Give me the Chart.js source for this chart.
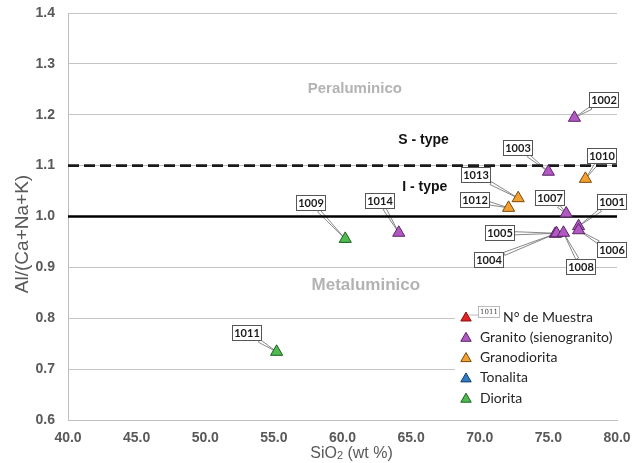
<!DOCTYPE html>
<html><head><meta charset="utf-8">
<script src="https://cdn.jsdelivr.net/npm/chart.js@4.4.1/dist/chart.umd.min.js"></script>
<style>html,body{margin:0;padding:0;background:#fff}canvas{display:block}</style>
</head><body>
<canvas id="c" width="643" height="463"></canvas>
<script>
// ---- data ----
const categories = ['Granito (sienogranito)', 'Granodiorita', 'Tonalita', 'Diorita'];
const granitoIds   = ['1001', '1002', '1003', '1004', '1005', '1006', '1007', '1008', '1014'];
const granitoSiO2  = [77.2, 76.9, 75.0, 75.5, 75.6, 77.2, 76.3, 76.1, 64.1];
const granitoAI    = [0.981, 1.194, 1.088, 0.966, 0.967, 0.973, 1.006, 0.968, 0.968];
const granodioritaIds  = ['1010', '1012', '1013'];
const granodioritaSiO2 = [77.7, 72.1, 72.8];
const granodioritaAI   = [1.074, 1.017, 1.036];
const tonalitaIds  = [];
const tonalitaSiO2 = [];
const tonalitaAI   = [];
const dioritaIds  = ['1009', '1011'];
const dioritaSiO2 = [60.2, 55.2];
const dioritaAI   = [0.956, 0.734];
const xTicks = [40, 45, 50, 55, 60, 65, 70, 75, 80];
const yTicks = [0.6, 0.7, 0.8, 0.9, 1.0, 1.1, 1.2, 1.3, 1.4];
const iTypeLimit = 1.0;
const sTypeLimit = 1.1;
const legendSampleLabel = 'N° de Muestra';
const legendSampleId = '1011';

// ---- styling (positions / colours) ----
const colors = {
  'Granito (sienogranito)': ['#b158c2', '#5b2466'],
  'Granodiorita': ['#f2a131', '#7a4a0c'],
  'Tonalita': ['#2f7bc4', '#123f6e'],
  'Diorita': ['#4dbb4f', '#1c5e1f']
};
// label box centre offsets (px) relative to each point
const labelOffsets = {
  '1001': [33, -24], '1002': [30, -18], '1003': [-30, -24], '1004': [-66, 26],
  '1005': [-57, 0], '1006': [33, 20], '1007': [-16, -15], '1008': [18, 34],
  '1009': [-34, -36], '1010': [17, -23], '1011': [-30, -19], '1012': [-34, -8],
  '1013': [-42, -23], '1014': [-19, -32]
};
const textNotes = [
  { text: 'Peraluminico', x: 60.9, y: 1.251, font: 'bold 15px "Liberation Sans", Arial', color: '#b3b3b3' },
  { text: 'Metaluminico', x: 61.7, y: 0.865, font: 'bold 17px "Liberation Sans", Arial', color: '#b3b3b3' },
  { text: 'S - type', x: 65.9, y: 1.150, font: 'bold 14px "Liberation Sans", Arial', color: '#111' },
  { text: 'I - type', x: 66.0, y: 1.058, font: 'bold 14px "Liberation Sans", Arial', color: '#111' }
];

const groups = [
  [categories[0], granitoIds, granitoSiO2, granitoAI],
  [categories[1], granodioritaIds, granodioritaSiO2, granodioritaAI],
  [categories[2], tonalitaIds, tonalitaSiO2, tonalitaAI],
  [categories[3], dioritaIds, dioritaSiO2, dioritaAI]
];

const scatterSets = groups.map(([name, ids, xs, ys]) => ({
  type: 'scatter',
  label: name,
  ids: ids,
  data: xs.map((x, i) => ({ x: x, y: ys[i] })),
  pointStyle: 'triangle',
  pointRadius: 7,
  backgroundColor: colors[name][0],
  borderColor: colors[name][1],
  borderWidth: 1,
  order: 1
}));

const lineSets = [
  { type: 'line', label: 'S', data: [{ x: xTicks[0], y: sTypeLimit }, { x: xTicks[xTicks.length - 1], y: sTypeLimit }],
    borderColor: '#1a1a1a', borderWidth: 2.6, borderDash: [11, 5], pointRadius: 0, order: 2 },
  { type: 'line', label: 'I', data: [{ x: xTicks[0], y: iTypeLimit }, { x: xTicks[xTicks.length - 1], y: iTypeLimit }],
    borderColor: '#000', borderWidth: 2.6, pointRadius: 0, order: 2 }
];

function drawTri(ctx, x, y, r, fill, stroke) {
  ctx.beginPath();
  ctx.moveTo(x, y - r);
  ctx.lineTo(x + r * 0.866, y + r * 0.5);
  ctx.lineTo(x - r * 0.866, y + r * 0.5);
  ctx.closePath();
  ctx.fillStyle = fill; ctx.fill();
  ctx.strokeStyle = stroke; ctx.lineWidth = 1; ctx.stroke();
}

function boxEdge(bx, by, hw, hh, px, py) {
  const dx = px - bx, dy = py - by;
  if (dx === 0 && dy === 0) return [bx, by];
  const t = Math.min(dx !== 0 ? hw / Math.abs(dx) : Infinity, dy !== 0 ? hh / Math.abs(dy) : Infinity);
  return [bx + dx * t, by + dy * t];
}

function leader(ctx, sx, sy, px, py) {
  const dx = px - sx, dy = py - sy, L = Math.hypot(dx, dy) || 1;
  const nx = -dy / L * 1.6, ny = dx / L * 1.6;
  ctx.beginPath();
  ctx.moveTo(sx + nx, sy + ny);
  ctx.lineTo(px, py);
  ctx.lineTo(sx - nx, sy - ny);
  ctx.closePath();
  ctx.fillStyle = '#fff'; ctx.fill();
  ctx.strokeStyle = '#7a7a7a'; ctx.lineWidth = 0.9; ctx.stroke();
}

const BW = 30, BH = 16;
const labelPlugin = {
  id: 'labels',
  beforeDatasetsDraw(chart) {
    const ctx = chart.ctx;
    ctx.save();
    chart.data.datasets.forEach((ds, di) => {
      if (!ds.ids) return;
      chart.getDatasetMeta(di).data.forEach((el, j) => {
        const off = labelOffsets[ds.ids[j]];
        const bx = el.x + off[0], by = el.y + off[1];
        const [sx, sy] = boxEdge(bx, by, BW / 2, BH / 2, el.x, el.y);
        leader(ctx, sx, sy, el.x, el.y);
      });
    });
    ctx.restore();
  },
  afterDatasetsDraw(chart) {
    const ctx = chart.ctx;
    ctx.save();
    chart.data.datasets.forEach((ds, di) => {
      if (!ds.ids) return;
      chart.getDatasetMeta(di).data.forEach((el, j) => {
        const off = labelOffsets[ds.ids[j]];
        const bx = Math.round(el.x + off[0]), by = Math.round(el.y + off[1]);
        ctx.fillStyle = '#fff';
        ctx.fillRect(bx - BW / 2, by - BH / 2, BW, BH);
        ctx.strokeStyle = '#555'; ctx.lineWidth = 1;
        ctx.strokeRect(bx - BW / 2 + 0.5, by - BH / 2 + 0.5, BW - 1, BH - 1);
        ctx.fillStyle = '#1a1a1a';
        ctx.font = 'bold 11px Lato, "Liberation Sans", sans-serif';
        ctx.textAlign = 'center'; ctx.textBaseline = 'middle';
        ctx.fillText(ds.ids[j], bx, by + 0.5);
      });
    });
    const xs = chart.scales.x, ys = chart.scales.y;
    textNotes.forEach(n => {
      ctx.font = n.font; ctx.fillStyle = n.color;
      ctx.textAlign = 'center'; ctx.textBaseline = 'middle';
      ctx.fillText(n.text, xs.getPixelForValue(n.x), ys.getPixelForValue(n.y));
    });
    ctx.restore();
  },
  afterDraw(chart) {
    const ctx = chart.ctx, a = chart.chartArea;
    ctx.save();
    ctx.fillStyle = '#595959';
    ctx.font = '19px "Liberation Sans", Arial';
    ctx.textAlign = 'center'; ctx.textBaseline = 'middle';
    ctx.translate(23, 234);
    ctx.rotate(-Math.PI / 2);
    ctx.fillText('Al/(Ca+Na+K)', 0, 0);
    ctx.setTransform(1, 0, 0, 1, 0, 0);
    const cx = (a.left + a.right) / 2 + 9, ty = 452;
    ctx.font = '16px "Liberation Sans", Arial';
    const w1 = ctx.measureText('SiO').width;
    ctx.font = '11px "Liberation Sans", Arial';
    const w2 = ctx.measureText('2').width;
    ctx.font = '16px "Liberation Sans", Arial';
    const w3 = ctx.measureText(' (wt %)').width;
    let x0 = cx - (w1 + w2 + w3) / 2;
    ctx.textAlign = 'left'; ctx.textBaseline = 'alphabetic';
    ctx.fillText('SiO', x0, ty + 6);
    ctx.font = '11px "Liberation Sans", Arial';
    ctx.fillText('2', x0 + w1, ty + 7);
    ctx.font = '16px "Liberation Sans", Arial';
    ctx.fillText(' (wt %)', x0 + w1 + w2, ty + 6);

    // legend
    const lx = a.right - 162, ly = a.bottom - 117;
    ctx.fillStyle = '#fff';
    ctx.fillRect(lx, ly, 643 - lx, a.bottom - 8 - ly);
    const rows = [legendSampleLabel].concat(categories);
    rows.forEach((t, i) => {
      const y = ly + 14 + i * 20.3;
      const tx = lx + 11;
      if (i === 0) {
        drawTri(ctx, tx, y + 1, 6, '#e02424', '#8a1010');
        const mbx = tx + 12, mby = y - 11;
        ctx.strokeStyle = '#aaa'; ctx.lineWidth = 0.8;
        ctx.beginPath(); ctx.moveTo(mbx, mby + 9); ctx.lineTo(tx + 3, y - 2); ctx.stroke();
        ctx.fillStyle = '#fff'; ctx.fillRect(mbx, mby, 22, 12);
        ctx.strokeRect(mbx + 0.5, mby + 0.5, 21, 11);
        ctx.fillStyle = '#444'; ctx.font = '7px "DejaVu Serif", serif';
        ctx.textAlign = 'center'; ctx.textBaseline = 'middle';
        ctx.fillText(legendSampleId, mbx + 11, mby + 6.5);
        ctx.fillStyle = '#262626'; ctx.font = '14px Lato, sans-serif';
        ctx.textAlign = 'left';
        ctx.fillText(t, tx + 37, y);
      } else {
        const c = colors[t];
        drawTri(ctx, tx, y + 1, 6, c[0], c[1]);
        ctx.fillStyle = '#262626'; ctx.font = '14px Lato, sans-serif';
        ctx.textAlign = 'left'; ctx.textBaseline = 'middle';
        ctx.fillText(t, tx + 14, y);
      }
    });
    ctx.restore();
  }
};

new Chart(document.getElementById('c'), {
  data: { datasets: lineSets.concat(scatterSets) },
  options: {
    responsive: false,
    devicePixelRatio: 1,
    animation: false,
    layout: { padding: { top: 13, right: 26, left: 0, bottom: 0 } },
    plugins: { legend: { display: false }, tooltip: { enabled: false } },
    scales: {
      x: {
        type: 'linear', min: xTicks[0], max: xTicks[xTicks.length - 1],
        afterFit: s => { s.height = 43; },
        afterBuildTicks: s => { s.ticks = xTicks.map(v => ({ value: v })); },
        grid: { display: false, drawTicks: false },
        border: { display: true, color: '#bfbfbf', width: 1 },
        ticks: { padding: 10, color: '#595959', font: { family: '"Liberation Sans", Arial', size: 14, weight: 'bold' },
                 callback: v => Number(v).toFixed(1) }
      },
      y: {
        type: 'linear', min: yTicks[0], max: yTicks[yTicks.length - 1],
        afterFit: s => { s.width = 68; s.paddingTop = 0; s.paddingBottom = 0; },
        afterBuildTicks: s => { s.ticks = yTicks.map(v => ({ value: v })); },
        grid: { display: true, drawTicks: false, color: '#c4c4c4', lineWidth: 1 },
        border: { display: true, color: '#bfbfbf', width: 1 },
        ticks: { padding: 13, color: '#595959', font: { family: '"Liberation Sans", Arial', size: 14, weight: 'bold' },
                 callback: v => Number(v).toFixed(1) }
      }
    }
  },
  plugins: [labelPlugin]
});
</script>
</body></html>
